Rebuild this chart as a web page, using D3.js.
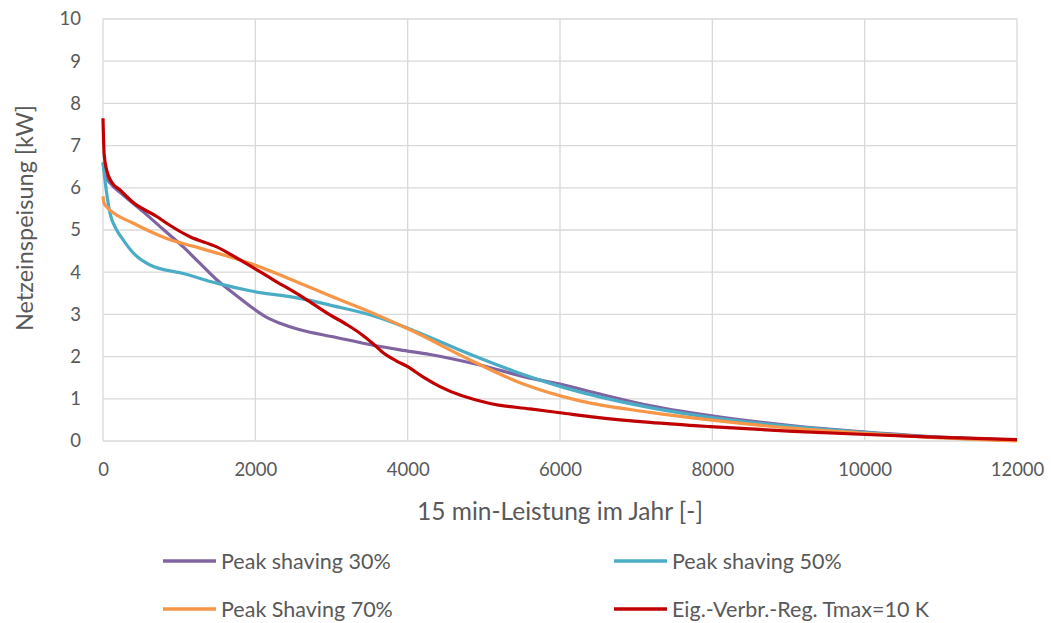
<!DOCTYPE html>
<html><head><meta charset="utf-8">
<script src="https://cdn.jsdelivr.net/npm/d3@7"></script>
<style>body{margin:0;background:#fff;} text{font-family:Lato,"Open Sans",sans-serif;fill:#595959;}</style>
</head><body>
<svg id="c" width="1051" height="623"></svg>
<script>
const xTicks = [0,2000,4000,6000,8000,10000,12000];
const yTicks = [0,1,2,3,4,5,6,7,8,9,10];
const seriesNames = ["Peak shaving 30%","Peak shaving 50%","Peak Shaving 70%","Eig.-Verbr.-Reg. Tmax=10 K"];
const seriesColors = ["#8064A2","#4BACC6","#F79646","#C00000"];
const ps30 = [[0,6.6],[30,6.3],[100,6.1],[250,5.85],[530,5.43],[800,5.0],[1054,4.6],[1250,4.25],[1493,3.82],[1750,3.45],[1974,3.14],[2150,2.93],[2324,2.79],[2600,2.63],[3020,2.47],[3549,2.27],[3900,2.16],[4293,2.05],[4950,1.8],[5606,1.49],[6000,1.35],[6481,1.13],[7093,0.87],[7969,0.6],[9063,0.36],[9938,0.22],[10814,0.11],[12000,0.02]];
const ps50 = [[0,6.6],[26,6.18],[92,5.4],[180,5.0],[267,4.76],[400,4.45],[617,4.17],[1054,3.97],[1493,3.74],[1930,3.56],[2586,3.38],[2980,3.22],[3505,2.99],[4074,2.62],[4730,2.12],[5387,1.66],[6043,1.27],[7181,0.79],[7969,0.56],[9063,0.34],[9938,0.21],[10814,0.1],[12000,0.02]];
const ps70 = [[0,5.8],[13,5.64],[48,5.55],[92,5.47],[398,5.16],[836,4.8],[1273,4.57],[1930,4.21],[2586,3.74],[2980,3.44],[3505,3.06],[4074,2.6],[4730,2.0],[5518,1.35],[6262,0.95],[7181,0.68],[7969,0.5],[9063,0.3],[9938,0.19],[10814,0.09],[12000,0.0]];
const evr = [[0,7.65],[15,6.8],[48,6.42],[120,6.12],[223,5.95],[398,5.65],[705,5.32],[836,5.16],[1142,4.84],[1493,4.6],[1800,4.29],[2236,3.82],[2630,3.4],[2980,2.99],[3200,2.76],[3400,2.52],[3550,2.3],[3700,2.06],[3850,1.9],[4000,1.76],[4200,1.52],[4424,1.29],[5081,0.89],[5606,0.76],[6000,0.67],[6481,0.56],[7181,0.44],[7969,0.34],[9063,0.23],[9938,0.16],[10814,0.1],[12000,0.03]];
const seriesData = [ps30, ps50, ps70, evr];

const svg = d3.select("#c");
const L=103, R=1017, T=19, B=441;
const x = d3.scaleLinear().domain([0,12000]).range([L,R]);
const y = d3.scaleLinear().domain([0,10]).range([B,T]);

const g = svg.append("g");
g.selectAll(".hg").data(yTicks).join("line")
  .attr("x1",L).attr("x2",R).attr("y1",d=>y(d)).attr("y2",d=>y(d))
  .attr("stroke","#D9D9D9").attr("stroke-width",1.3);
g.selectAll(".vg").data(xTicks).join("line")
  .attr("y1",T).attr("y2",B).attr("x1",d=>x(d)).attr("x2",d=>x(d))
  .attr("stroke","#D9D9D9").attr("stroke-width",1.3);

const xa = svg.append("g").attr("transform",`translate(0,${B})`)
  .call(d3.axisBottom(x).tickValues(xTicks).tickSize(0).tickPadding(22).tickFormat(d3.format("d")));
xa.select(".domain").remove();
xa.selectAll("text").style("font-size","18.5px").attr("fill","#595959");
const ya = svg.append("g").attr("transform",`translate(${L},0)`)
  .call(d3.axisLeft(y).tickValues(yTicks).tickSize(0).tickPadding(22).tickFormat(d3.format("d")));
ya.select(".domain").remove();
ya.selectAll("text").style("font-size","18.5px").attr("fill","#595959");

const line = d3.line().x(d=>x(d[0])).y(d=>y(d[1])).curve(d3.curveMonotoneX);
seriesData.forEach((s,i)=>{
  svg.append("path").datum(s).attr("d",line).attr("fill","none")
    .attr("stroke",seriesColors[i]).attr("stroke-width",3.2).attr("stroke-linejoin","round");
});

svg.append("text").attr("x",560).attr("y",520).attr("text-anchor","middle")
  .style("font-size","24.5px").text("15 min-Leistung im Jahr [-]");
svg.append("text").attr("transform","translate(33,218) rotate(-90)").attr("text-anchor","middle")
  .style("font-size","23.5px").text("Netzeinspeisung [kW]");

const legPos = [[163,561],[614,561],[163,609],[614,609]];
seriesNames.forEach((n,i)=>{
  const [lx,ly]=legPos[i];
  svg.append("line").attr("x1",lx).attr("x2",lx+53).attr("y1",ly).attr("y2",ly)
    .attr("stroke",seriesColors[i]).attr("stroke-width",3.5);
  svg.append("text").attr("x",lx+58).attr("y",ly).attr("dy","0.35em")
    .style("font-size","21.5px").text(n);
});
</script>
</body></html>
